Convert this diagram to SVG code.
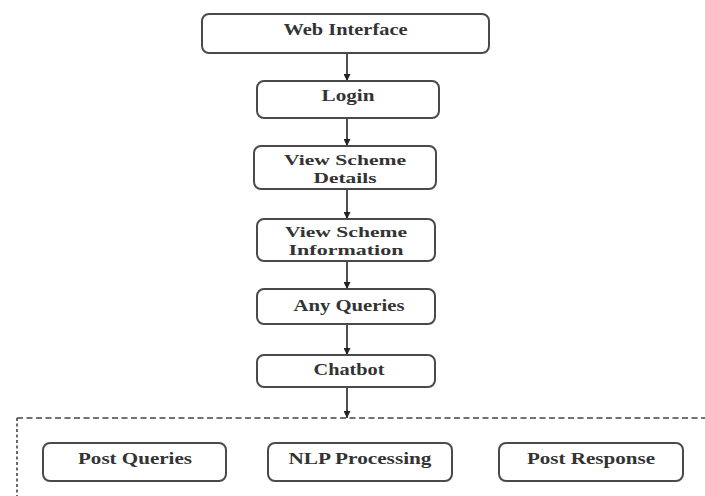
<svg xmlns="http://www.w3.org/2000/svg" width="705" height="496" viewBox="0 0 705 496">
  <defs>
    <marker id="arrow" viewBox="0 0 10 10" refX="10" refY="5" markerWidth="7" markerHeight="7" markerUnits="userSpaceOnUse" orient="auto">
      <path d="M0,0 L10,5 L0,10 Z" fill="#222"/>
    </marker>
    <style>
      .box { fill: #fff; stroke: #4a4a4a; stroke-width: 2; }
      .lbl { font-family: "Liberation Serif", "Times New Roman", serif; font-weight: bold; font-size: 16.5px; fill: #333; text-anchor: middle; }
      .two { font-size: 15px; }
      .edge { stroke: #222; stroke-width: 1.6; fill: none; marker-end: url(#arrow); }
      .frame { stroke: #444; stroke-width: 1.6; fill: none; }
    </style>
  </defs>
  <rect width="705" height="496" fill="#fff"/>

  <!-- chatbot sub-process frame -->
  <g id="chatbot-frame">
    <line class="frame" x1="17" y1="418" x2="705" y2="418" stroke-dasharray="6 3.5"/>
    <line class="frame" x1="17" y1="418" x2="17" y2="496" stroke-dasharray="3 2.5"/>
  </g>

  <g id="connectors">
    <line class="edge" x1="347" y1="54" x2="347" y2="81"/>
    <line class="edge" x1="347" y1="119" x2="347" y2="146"/>
    <line class="edge" x1="347" y1="190" x2="347" y2="219"/>
    <line class="edge" x1="347" y1="262" x2="347" y2="289"/>
    <line class="edge" x1="347" y1="325" x2="347" y2="355"/>
    <line class="edge" x1="347" y1="388" x2="347" y2="418"/>
  </g>

  <g id="web-interface">
    <rect class="box" x="202" y="14" width="287" height="39" rx="7"/>
    <text class="lbl" x="345.5" y="35" textLength="124" lengthAdjust="spacingAndGlyphs">Web Interface</text>
  </g>

  <g id="login">
    <rect class="box" x="257" y="81" width="182" height="37" rx="7"/>
    <text class="lbl" x="348" y="101" textLength="53" lengthAdjust="spacingAndGlyphs">Login</text>
  </g>

  <g id="view-scheme-details">
    <rect class="box" x="254" y="146" width="182" height="43" rx="7"/>
    <text class="lbl two" x="345" y="165" textLength="122" lengthAdjust="spacingAndGlyphs">View Scheme</text>
    <text class="lbl two" x="345" y="182.5" textLength="63" lengthAdjust="spacingAndGlyphs">Details</text>
  </g>

  <g id="view-scheme-information">
    <rect class="box" x="257" y="219" width="178" height="42" rx="7"/>
    <text class="lbl two" x="346" y="237" textLength="122" lengthAdjust="spacingAndGlyphs">View Scheme</text>
    <text class="lbl two" x="346" y="254.5" textLength="115" lengthAdjust="spacingAndGlyphs">Information</text>
  </g>

  <g id="any-queries">
    <rect class="box" x="257" y="289" width="178" height="35" rx="7"/>
    <text class="lbl" x="349" y="311" textLength="111" lengthAdjust="spacingAndGlyphs">Any Queries</text>
  </g>

  <g id="chatbot">
    <rect class="box" x="257" y="355" width="178" height="32" rx="7"/>
    <text class="lbl" x="349" y="375" textLength="71" lengthAdjust="spacingAndGlyphs">Chatbot</text>
  </g>

  <g id="post-queries">
    <rect class="box" x="43" y="443" width="183" height="38" rx="7"/>
    <text class="lbl" x="135" y="464" textLength="114" lengthAdjust="spacingAndGlyphs">Post Queries</text>
  </g>

  <g id="nlp-processing">
    <rect class="box" x="268" y="443" width="184" height="38" rx="7"/>
    <text class="lbl" x="360" y="464" textLength="143" lengthAdjust="spacingAndGlyphs">NLP Processing</text>
  </g>

  <g id="post-response">
    <rect class="box" x="499" y="443" width="184" height="38" rx="7"/>
    <text class="lbl" x="591" y="464" textLength="128" lengthAdjust="spacingAndGlyphs">Post Response</text>
  </g>
</svg>
